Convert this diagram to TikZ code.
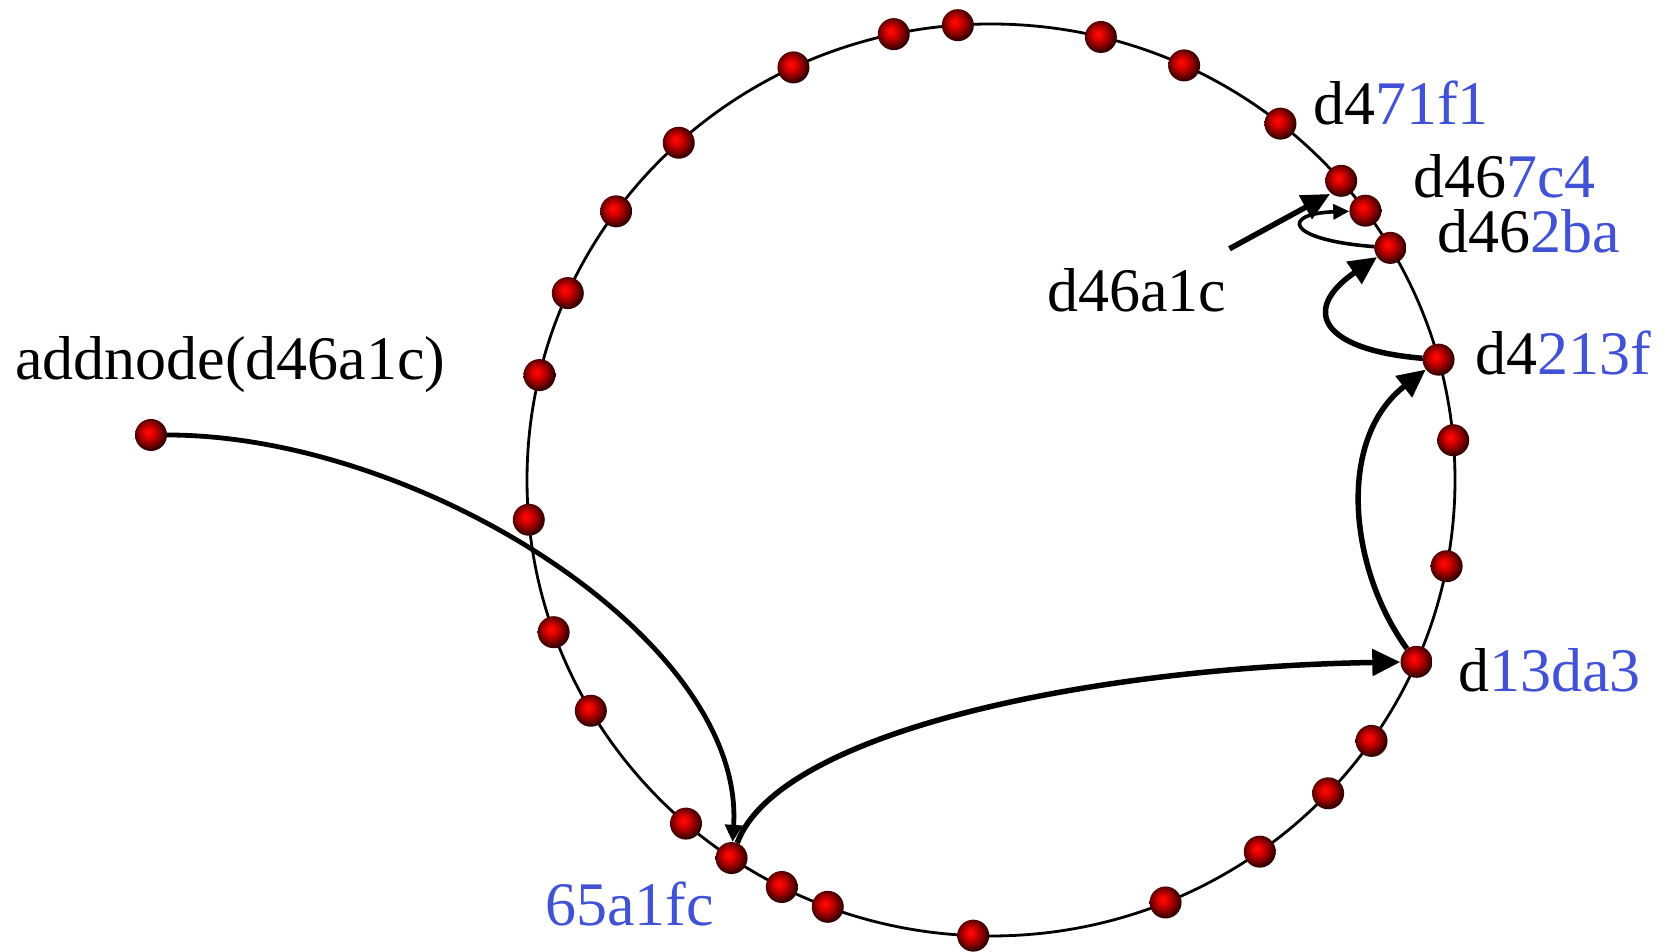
\documentclass[tikz,border=0pt]{standalone}
\usepackage{fontspec}
\setmainfont{Liberation Serif}
\usetikzlibrary{arrows.meta, positioning}
\definecolor{idblue}{RGB}{66,82,214}
\pgfdeclareradialshading{peerball}{\pgfpoint{-5bp}{5bp}}{%
  color(0bp)=(red!95!yellow); color(8bp)=(red!88!black);
  color(17bp)=(red!55!black); color(25bp)=(red!22!black); color(50bp)=(black)}

\begin{document}
\begin{tikzpicture}[
  x=1pt, y=1pt,
  every node/.style={font=\fontsize{62}{70}\selectfont},
  peer/.style={circle, inner sep=0pt, minimum size=32pt, shading=peerball},
  ring/.style={line width=2.8pt},
  lbl/.style={anchor=base west, inner sep=0pt},
  link/.style={line width=5.5pt, -{Triangle[length=28pt, width=26pt]}},
  feed/.style={line width=4.8pt, -{Triangle[length=17pt, width=17pt]}},
  hop/.style={line width=3.6pt, -{Triangle[length=16pt, width=15pt]}}
]
\useasboundingbox (0,0) rectangle (1675,952);

% Ring
\coordinate (ctr) at (991,472);
\draw[ring] (ctr) ellipse [x radius=464, y radius=456];

% Peers on the ring
\foreach \a/\n in {94.1/t1, 102.1/t2, 76.3/t3, 115.2/t4, 65.4/t5, 132.3/t6,
    51.4/n71f1, 41.0/n67c4, 36.2/n6a1c, 30.6/n62ba, 143.9/t11, 155.8/t12,
    166.7/t13, 15.3/n213f, 5.0/t15, 185.0/t16, 349.1/t17, 199.5/t18,
    336.5/n13da3, 210.4/t20, 325.1/t21, 316.6/t22, 228.9/t23, 236.0/n65a1fc,
    305.4/t25, 243.2/t26, 249.4/t27, 292.1/t28, 267.8/t29}
  \node[peer] (\n) at ([shift={(\a:464 and 456)}]ctr) {};

% Joining peer
\node[peer] (adddot) at (151,517) {};

% Labels
\node[lbl] (ladd)   at (15,572)   {addnode(d46a1c)};
\node[lbl] (l71f1)  at (1313,827) {d4\textcolor{idblue}{71f1}};
\node[lbl] (l67c4)  at (1413,754) {d46\textcolor{idblue}{7c4}};
\node[lbl] (l62ba)  at (1437,699) {d46\textcolor{idblue}{2ba}};
\node[lbl] (l213f)  at (1475,577) {d4\textcolor{idblue}{213f}};
\node[lbl] (l13da3) at (1458,260) {d\textcolor{idblue}{13da3}};
\node[lbl] (l65a1fc) at (545,26)  {\textcolor{idblue}{65a1fc}};
\node[lbl] (l6a1c)  at (1047,640) {d46a1c};
\coordinate (newtip) at (1330,758);

% Routing
\draw[feed] (adddot) .. controls +(269,0) and +(14,218) .. (n65a1fc);
\draw[link] (n65a1fc) .. controls +(48,128) and +(-318,-5) .. (n13da3);
\draw[link] (n13da3) .. controls +(-67,92) and +(-103,-80) .. (n213f);
\draw[link] (n213f) .. controls +(-118,10) and +(-90,-62) .. (n62ba);
\draw[hop] (n62ba) .. controls +(-105,8) and +(-85,-3) .. (n6a1c);
\draw[link] ([shift={(3,20)}]l6a1c.north east) -- (newtip);

\end{tikzpicture}
\end{document}
